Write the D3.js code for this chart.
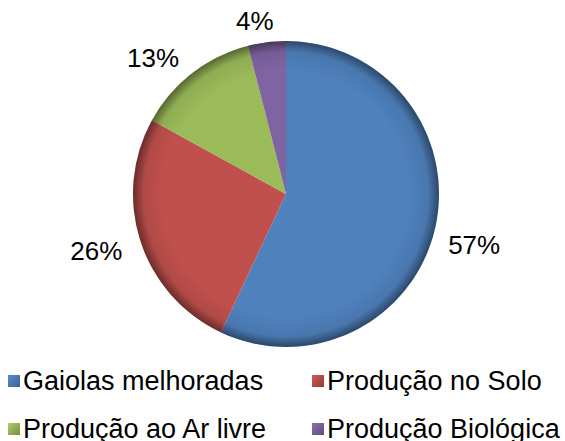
<!DOCTYPE html>
<html>
<head>
<meta charset="utf-8">
<script src="https://cdn.jsdelivr.net/npm/d3@7"></script>
<style>
  html, body { margin: 0; padding: 0; background: #fff; }
  svg { display: block; font-family: "Liberation Sans", Arial, sans-serif; }
</style>
</head>
<body>
<svg id="chart" width="565" height="441"></svg>
<script>
const categories = ['Gaiolas melhoradas', 'Produção no Solo', 'Produção ao Ar livre', 'Produção Biológica'];
const values = [57, 26, 13, 4];
const labels = ['57%', '26%', '13%', '4%'];
const colors = ['#4F81BD', '#C0504D', '#9BBB59', '#8064A2'];

const cx = 286;
const cy = 194;
const radius = 153;

const svg = d3.select('#chart');
const defs = svg.append('defs');

// dark rim, like the soft bevel in the original
const rim = defs.append('radialGradient')
  .attr('id', 'rim')
  .attr('gradientUnits', 'userSpaceOnUse')
  .attr('cx', cx).attr('cy', cy).attr('r', radius);
rim.append('stop').attr('offset', '0.80').attr('stop-color', '#000').attr('stop-opacity', 0);
rim.append('stop').attr('offset', '0.93').attr('stop-color', '#000').attr('stop-opacity', 0.08);
rim.append('stop').attr('offset', '1').attr('stop-color', '#000').attr('stop-opacity', 0.45);

defs.append('filter').attr('id', 'soft')
  .append('feGaussianBlur').attr('stdDeviation', 2.5);

const pie = d3.pie().sort(null).value(d => d);
const arcs = pie(values);
const arc = d3.arc().innerRadius(0).outerRadius(radius);
const edgeArc = d3.arc().innerRadius(0).outerRadius(radius - 1);

const g = svg.append('g').attr('transform', `translate(${cx},${cy})`);

g.selectAll('path.slice')
  .data(arcs)
  .join('path')
  .attr('class', 'slice')
  .attr('d', arc)
  .attr('fill', (d, i) => colors[i]);

// inner bevel shading along the slice edges
arcs.forEach((a, i) => {
  const clipId = `clip${i}`;
  defs.append('clipPath').attr('id', clipId)
    .append('path').attr('d', arc(a)).attr('transform', `translate(${cx},${cy})`);
  svg.append('path')
    .attr('d', edgeArc(a))
    .attr('transform', `translate(${cx},${cy})`)
    .attr('fill', 'none')
    .attr('stroke', d3.color(colors[i]).darker(1.3))
    .attr('stroke-width', 7)
    .attr('stroke-opacity', 0.6)
    .attr('filter', 'url(#soft)')
    .attr('clip-path', `url(#${clipId})`);
});

svg.append('circle').attr('cx', cx).attr('cy', cy).attr('r', radius).attr('fill', 'url(#rim)');

// percentage labels outside the pie: distance and small angle shift per slice
const labelRadius = [195, 198, 190, 176];
const labelShift = [2.6, 1.3, -6.6, -3];
const labelPos = (d, i) => {
  const a = (d.startAngle + d.endAngle) / 2 + labelShift[i] * Math.PI / 180;
  return [Math.sin(a) * labelRadius[i], -Math.cos(a) * labelRadius[i]];
};
g.selectAll('text.pct')
  .data(arcs)
  .join('text')
  .attr('class', 'pct')
  .attr('x', (d, i) => labelPos(d, i)[0])
  .attr('y', (d, i) => labelPos(d, i)[1])
  .attr('dy', '0.35em')
  .attr('text-anchor', 'middle')
  .attr('font-size', 26)
  .attr('fill', '#000')
  .text((d, i) => labels[i]);

// legend, two columns
const legend = svg.append('g');
const colX = [8, 312];
const rowY = [381, 429];
const item = legend.selectAll('g')
  .data(categories)
  .join('g')
  .attr('transform', (d, i) => `translate(${colX[i % 2]},${rowY[Math.floor(i / 2)]})`);

categories.forEach((c, i) => {
  const lg = defs.append('linearGradient').attr('id', `lg${i}`)
    .attr('x1', 0).attr('y1', 0).attr('x2', 1).attr('y2', 1);
  lg.append('stop').attr('offset', 0).attr('stop-color', d3.color(colors[i]).brighter(0.3));
  lg.append('stop').attr('offset', 1).attr('stop-color', d3.color(colors[i]).darker(0.8));
});

item.append('rect')
  .attr('x', 0).attr('y', -6)
  .attr('width', 12).attr('height', 12)
  .attr('fill', (d, i) => `url(#lg${i})`);

item.append('text')
  .attr('x', 15)
  .attr('dy', '0.35em')
  .attr('font-size', 27)
  .attr('fill', '#000')
  .text(d => d);
</script>
</body>
</html>
